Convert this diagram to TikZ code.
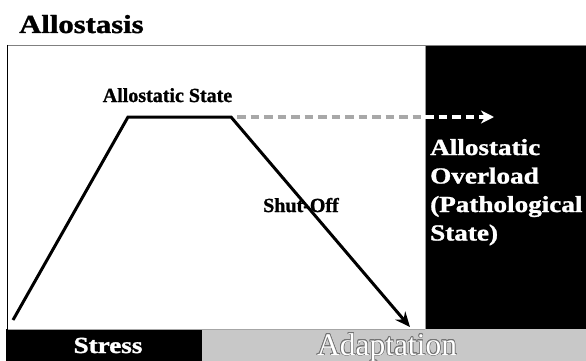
\documentclass[tikz,border=0pt]{standalone}
\usepackage{fontspec}
\setmainfont{Liberation Serif}[BoldFeatures={FakeBold=1.2}]
\usepackage{contour}
\usetikzlibrary{arrows.meta}
\contourlength{0.6pt}
\newcommand\widetext[1]{\scalebox{1.18}[1]{#1}}
\definecolor{bandgray}{RGB}{200,200,200}
\definecolor{dashgray}{RGB}{168,168,168}
\tikzset{
  label text/.style={inner sep=0pt, font=\bfseries},
  curve line/.style={line width=3pt, line join=miter},
  overload arrow/.style={line width=3.5pt, dash pattern=on 8.5pt off 5pt},
}
\begin{document}
\begin{tikzpicture}[x=1pt, y=-1pt]
  \useasboundingbox (0,0) rectangle (586,361);
  \fill[white] (0,0) rectangle (586,361);

  % panels
  \fill[black] (425,45.5) rectangle (586,329);
  \fill[black] (6,329) rectangle (202,361);
  \fill[bandgray] (202,329) rectangle (586,361);
  \draw[gray, line width=0.8pt] (7,45) -- (586,45);
  \draw[black, line width=1.6pt] (7.5,45) -- (7.5,329);
  \draw[gray!70, line width=0.8pt] (8,329) -- (425,329);
  \draw[gray!80, line width=0.6pt] (425,46) -- (425,329);

  % title
  \node[label text, anchor=base west, font=\bfseries\fontsize{26}{30}\selectfont]
    (title) at (19,33) {\widetext{Allostasis}};

  % stress response curve
  \coordinate (start) at (13,320);
  \coordinate (riseTop) at (128,117);
  \coordinate (fallTop) at (231,117);
  \coordinate (end) at (410,327);
  \draw[curve line, -{Stealth[length=15pt, width=13pt, inset=5pt]}]
    (start) -- (riseTop) -- (fallTop) -- (end);

  % continuation towards overload
  \coordinate (dashStart) at (237,117);
  \coordinate (border) at (425,117);
  \coordinate (dashTip) at (494,117);
  \draw[overload arrow, dashgray] (dashStart) -- (border);
  \draw[overload arrow, white, -{Stealth[length=13pt, width=13pt, inset=4pt]}]
    (border) -- (dashTip);

  % labels
  \node[label text, anchor=base, font=\bfseries\fontsize{20}{24}\selectfont]
    (state) at (167.5,102) {Allostatic State};
  \node[label text, anchor=base west, font=\bfseries\fontsize{20}{24}\selectfont]
    (shutoff) at (263,212) {Shut-Off};
  \node[label text, text=white, anchor=base west, font=\bfseries\fontsize{23}{28.5}\selectfont]
    (overload) at (430,155)
    {\widetext{\begin{tabular}[t]{@{}l@{}}Allostatic\\Overload\\(Pathological\\State)\end{tabular}}};
  \node[label text, text=white, anchor=base, font=\bfseries\fontsize{23}{27}\selectfont]
    (stress) at (108,353) {\widetext{Stress}};
  \node[inner sep=0pt, text=white, anchor=base, font=\fontsize{31.5}{36}\selectfont]
    (adapt) at (387,355) {\contour{black!55}{Adaptation}};
\end{tikzpicture}
\end{document}
